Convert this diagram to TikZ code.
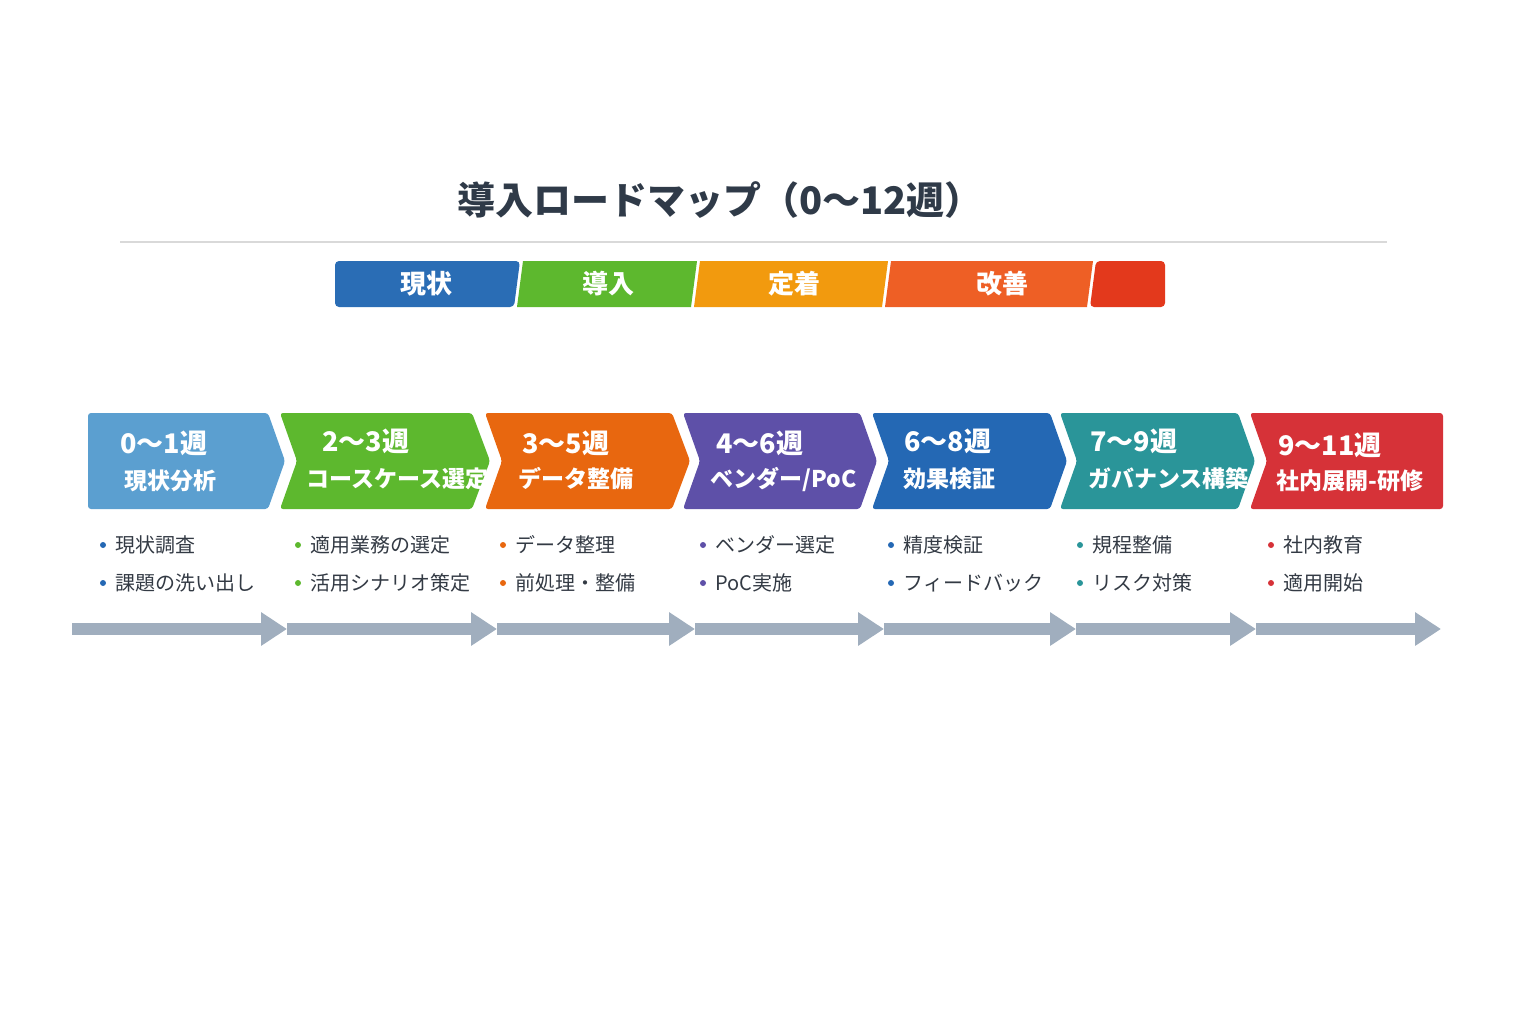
\documentclass[tikz,border=0pt]{standalone}
\usepackage{fontspec}
\setmainfont{Noto Sans CJK JP}
\usetikzlibrary{arrows.meta}
\definecolor{cA}{HTML}{5B9FD0}\definecolor{cB}{HTML}{5DB82E}\definecolor{cC}{HTML}{E8670F}
\definecolor{cD}{HTML}{5E50A8}\definecolor{cE}{HTML}{2468B4}\definecolor{cF}{HTML}{2A9599}
\definecolor{cG}{HTML}{D63238}\definecolor{tA}{HTML}{2A6DB5}\definecolor{tB}{HTML}{5DB82E}
\definecolor{tC}{HTML}{F29A0E}\definecolor{tD}{HTML}{EE5F25}\definecolor{tE}{HTML}{E3391C}
\definecolor{ttl}{HTML}{2F3A48}\definecolor{arr}{HTML}{A0AEBE}\definecolor{txt}{HTML}{333A44}
\begin{document}
\begin{tikzpicture}[x=0.5pt,y=-0.5pt,
 lbl/.style={text=white,font=\bfseries,align=center,inner sep=0},
 bul/.style={font=\fontsize{10}{12}\selectfont,text=txt,anchor=west,inner sep=0},
 dot/.style={circle,inner sep=0,minimum size=3pt},
 flow/.style={draw=arr,line width=6pt,-{Triangle[length=13pt,width=16pt]},shorten >=0pt}]
\useasboundingbox (0,0) rectangle (1536,1024);
\node[font=\fontsize{19}{22}\selectfont\bfseries,text=ttl] (title) at (720,200) {導入ロードマップ（0〜12週）};
\draw[draw=black!15,line width=1pt] (120,242) -- (1387,242);
% top phase bar
\fill[tA,rounded corners=2pt] (335,261) -- (520,261) -- (514,307) -- (335,307) -- cycle;
\fill[tB] (523,261) -- (697,261) -- (691,307) -- (517,307) -- cycle;
\fill[tC] (700,261) -- (888,261) -- (882,307) -- (694,307) -- cycle;
\fill[tD] (891,261) -- (1093,261) -- (1087,307) -- (885,307) -- cycle;
\fill[tE,rounded corners=2pt] (1096,261) -- (1165,261) -- (1165,307) -- (1090,307) -- cycle;
\node[lbl,font=\fontsize{13}{15}\selectfont\bfseries] (p1) at (426,284) {現状};
\node[lbl,font=\fontsize{13}{15}\selectfont\bfseries] (p2) at (608,284) {導入};
\node[lbl,font=\fontsize{13}{15}\selectfont\bfseries] (p3) at (794,284) {定着};
\node[lbl,font=\fontsize{13}{15}\selectfont\bfseries] (p4) at (1002,284) {改善};
% chevrons
\fill[cA,rounded corners=1.5pt] (88,413) -- (268,413) -- (285,461) -- (268,509) -- (88,509) -- cycle;
\fill[cB,rounded corners=1.5pt] (280,413) -- (472,413) -- (490,461) -- (472,509) -- (280,509) -- (297,461) -- cycle;
\fill[cC,rounded corners=1.5pt] (485,413) -- (672,413) -- (690,461) -- (672,509) -- (485,509) -- (502,461) -- cycle;
\fill[cD,rounded corners=1.5pt] (683,413) -- (860,413) -- (877,461) -- (860,509) -- (683,509) -- (700,461) -- cycle;
\fill[cE,rounded corners=1.5pt] (872,413) -- (1050,413) -- (1067,461) -- (1050,509) -- (872,509) -- (889,461) -- cycle;
\fill[cF,rounded corners=1.5pt] (1060,413) -- (1238,413) -- (1255,461) -- (1238,509) -- (1060,509) -- (1077,461) -- cycle;
\fill[cG,rounded corners=1.5pt] (1250,413) -- (1443,413) -- (1443,509) -- (1250,509) -- (1267,461) -- cycle;
\def\wk#1{\fontsize{13.5}{15}\selectfont #1}
\def\nm#1{\fontsize{11.5}{13}\selectfont #1}
\node[lbl,anchor=west] (w1) at (120,443) {\wk{0〜1週}};
\node[lbl,anchor=west] (n1) at (124,481) {\nm{現状分析}};
\node[lbl,anchor=west] (w2) at (322,441) {\wk{2〜3週}};
\node[lbl,anchor=west] (n2) at (306,479) {\nm{コースケース選定}};
\node[lbl,anchor=west] (w3) at (522,443) {\wk{3〜5週}};
\node[lbl,anchor=west] (n3) at (518,479) {\nm{データ整備}};
\node[lbl,anchor=west] (w4) at (716,443) {\wk{4〜6週}};
\node[lbl,anchor=west] (n4) at (710,479) {\nm{ベンダー/PoC}};
\node[lbl,anchor=west] (w5) at (904,441) {\wk{6〜8週}};
\node[lbl,anchor=west] (n5) at (903,479) {\nm{効果検証}};
\node[lbl,anchor=west] (w6) at (1090,441) {\wk{7〜9週}};
\node[lbl,anchor=west] (n6) at (1088,479) {\nm{ガバナンス構築}};
\node[lbl,anchor=west] (w7) at (1278,445) {\wk{9〜11週}};
\node[lbl,anchor=west] (n7) at (1276,481) {\nm{社内展開-研修}};
% bullets
\foreach \x/\c/\a/\b [count=\i] in {100/cE/現状調査/課題の洗い出し, 295/cB/適用業務の選定/活用シナリオ策定, 500/cC/データ整理/前処理・整備, 700/cD/ベンダー選定/PoC実施, 888/cE/精度検証/フィードバック, 1077/cF/規程整備/リスク対策, 1268/cG/社内教育/適用開始}{
 \node[dot,fill=\c] (da\i) at (\x+3,545) {};
 \node[bul] (ba\i) at (\x+15,545) {\a};
 \node[dot,fill=\c] (db\i) at (\x+3,583) {};
 \node[bul] (bb\i) at (\x+15,583) {\b};
}
% flow arrows
\coordinate (f0) at (72,629);
\coordinate (f1) at (287,629);\coordinate (f2) at (497,629);\coordinate (f3) at (695,629);
\coordinate (f4) at (884,629);\coordinate (f5) at (1076,629);\coordinate (f6) at (1256,629);\coordinate (f7) at (1441,629);
\draw[flow] (f0) -- (f1);\draw[flow] (f1) -- (f2);\draw[flow] (f2) -- (f3);\draw[flow] (f3) -- (f4);
\draw[flow] (f4) -- (f5);\draw[flow] (f5) -- (f6);\draw[flow] (f6) -- (f7);
\end{tikzpicture}
\end{document}
